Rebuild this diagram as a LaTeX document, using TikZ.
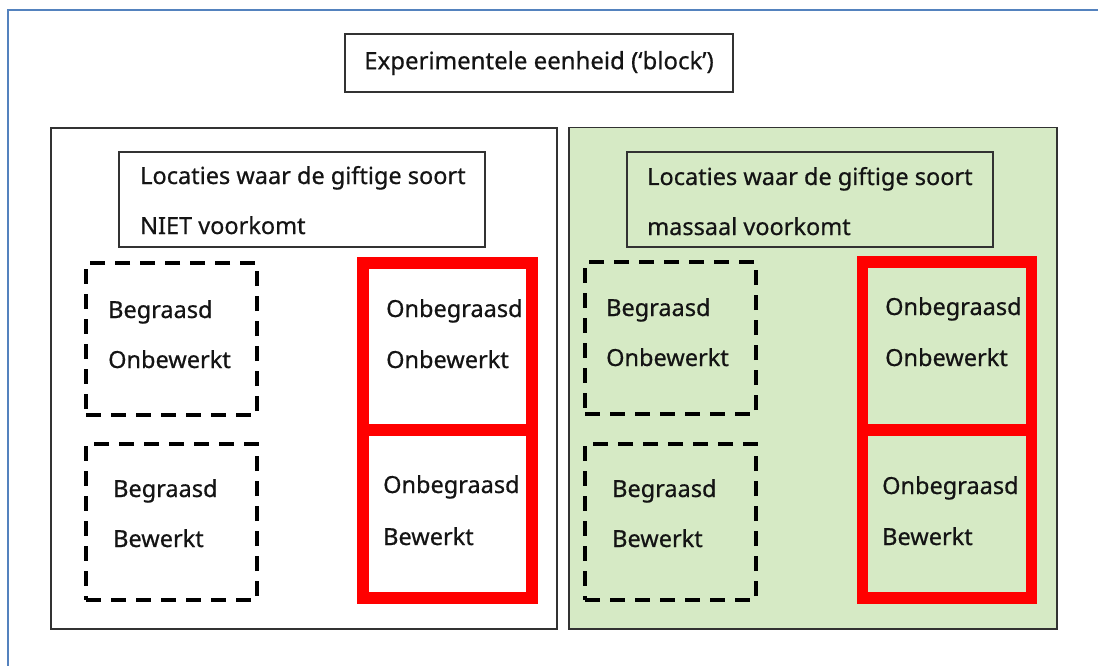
\documentclass[tikz,border=0pt]{standalone}
\usepackage{fontspec}
\setmainfont{Noto Sans}[FakeBold=0.6]
\definecolor{frameblue}{RGB}{84,130,190}
\definecolor{boxgray}{RGB}{50,50,50}
\definecolor{leafgreen}{RGB}{214,234,197}
\definecolor{txtcol}{RGB}{20,20,20}
\definecolor{boldred}{RGB}{255,0,0}
\begin{document}
\begin{tikzpicture}[x=1pt,y=-1pt,
  plainbox/.style={draw=boxgray, line width=1.5pt, inner sep=0pt, outer sep=0pt},
  dashbox/.style={draw=black, line width=3.5pt, dash pattern=on 15pt off 10pt, inner sep=0pt, outer sep=0pt},
  redbox/.style={draw=boldred, line width=11.5pt, inner sep=0pt, outer sep=0pt},
  txt/.style={font=\fontsize{23.5}{27}\selectfont\bfseries, text=txtcol, inner sep=0pt, anchor=base west},
  blueline/.style={draw=frameblue, line width=2.5pt}]
\useasboundingbox (0,0) rectangle (1098,666);
\fill[white] (0,0) rectangle (1098,666);
% outer frame
\coordinate (fbl) at (8,666);
\coordinate (ftl) at (8,10);
\coordinate (ftr) at (1098,10);
\draw[blueline] (fbl) -- (ftl) -- (ftr);
% title
\node[plainbox, minimum width=388pt, minimum height=58pt, font=\fontsize{24}{27}\selectfont\bfseries, text=txtcol] (title) at (539,63) {Experimentele eenheid (‘block’)};
% big boxes
\node[plainbox, minimum width=506pt, minimum height=501pt] (left) at (304,378.5) {};
\node[plainbox, fill=leafgreen, minimum width=488pt, minimum height=501.5pt] (right) at (813,378.25) {};
% label boxes
\node[plainbox, minimum width=366pt, minimum height=95pt] (llab) at (302,199.5) {};
\node[plainbox, minimum width=366pt, minimum height=95pt] (rlab) at (810,199.5) {};
\node[txt] (llab1) at (140,184) {Locaties waar de giftige soort};
\node[txt] (llab2) at (140,234) {NIET voorkomt};
\node[txt] (rlab1) at (647,185) {Locaties waar de giftige soort};
\node[txt] (rlab2) at (647,235) {massaal voorkomt};
% dashed boxes
\node[dashbox, minimum width=171pt, minimum height=152pt] (lbo) at (171.5,339) {};
\node[dashbox, minimum width=171pt, minimum height=156pt] (lbb) at (171.5,522) {};
\node[dashbox, minimum width=171pt, minimum height=152pt] (rbo) at (670.5,338) {};
\node[dashbox, minimum width=171pt, minimum height=156pt] (rbb) at (670.5,522) {};
% red boxes
\node[redbox, minimum width=169pt, minimum height=167pt] (luo) at (447.5,346.5) {};
\node[redbox, minimum width=169pt, minimum height=168pt] (lub) at (447.5,514) {};
\node[redbox, minimum width=169pt, minimum height=168pt] (ruo) at (947,346) {};
\node[redbox, minimum width=169pt, minimum height=168pt] (rub) at (947,514) {};
% texts left
\node[txt] (t1) at (108,318) {Begraasd};
\node[txt] (t2) at (108,368) {Onbewerkt};
\node[txt] (t3) at (113,497) {Begraasd};
\node[txt] (t4) at (113,547) {Bewerkt};
\node[txt] (t5) at (386,317) {Onbegraasd};
\node[txt] (t6) at (386,368) {Onbewerkt};
\node[txt] (t7) at (383,493) {Onbegraasd};
\node[txt] (t8) at (383,545) {Bewerkt};
% texts right
\node[txt] (t9) at (606,316) {Begraasd};
\node[txt] (t10) at (606,366) {Onbewerkt};
\node[txt] (t11) at (612,497) {Begraasd};
\node[txt] (t12) at (612,547) {Bewerkt};
\node[txt] (t13) at (885,315) {Onbegraasd};
\node[txt] (t14) at (885,366) {Onbewerkt};
\node[txt] (t15) at (882,494) {Onbegraasd};
\node[txt] (t16) at (882,545) {Bewerkt};
\end{tikzpicture}
\end{document}
